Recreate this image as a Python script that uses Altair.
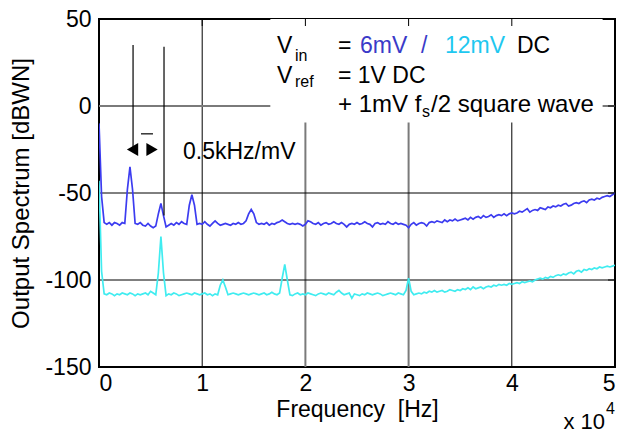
import altair as alt
import pandas as pd

# ---------------- data ----------------
freq_hz = list(range(0, 50001, 250))

spec_6mV = [
    -10, -52, -67, -68, -67, -68.5, -67, -67.5, -68.5, -67, -67.5, -48, -35, -48, -67.5, -68, -67, -68.5, -69, -67.5,
    -69, -70, -69, -62, -56, -63, -69.5, -68.5, -67.5, -68.5, -67, -68, -66.5, -67.5, -68, -57, -51, -57, -68, -67.5,
    -68, -66.5, -68, -69, -67.5, -66, -67.5, -68.5, -68, -67.5, -68, -68.5, -67.5, -68, -67, -68, -67.5, -66, -62, -59.5,
    -62, -67, -68, -67.5, -68, -67, -68.5, -67.5, -68, -67, -66.5, -65.5, -66.5, -67.5, -68, -67.5, -68, -67.5, -68, -69,
    -68, -66, -66.5, -67.5, -68, -67, -68.5, -67.5, -67, -68, -67.5, -66.5, -67.5, -68, -67, -68, -69.5, -68, -67.5, -68,
    -67, -68, -67.5, -66.5, -67.5, -68, -69.5, -67.5, -67, -68, -67.5, -68, -66.5, -67.5, -68, -67, -68, -67.5, -68, -68.5,
    -70, -68, -67, -68.5, -67.5, -67, -67.5, -69, -67, -66.5, -67, -66, -66.5, -67, -65.5, -66.5, -65.5, -66, -65, -66,
    -65.5, -65, -64.5, -65.5, -64, -65, -64, -63.5, -64.5, -63, -64, -63.5, -62.5, -64, -63, -62.5, -63, -62, -63, -62,
    -61.5, -62, -61.5, -60.5, -61, -60, -59, -61, -60, -59.5, -60, -58.5, -59, -59.5, -58, -58.5, -57.5, -58, -57, -57.5,
    -56.5, -56, -57.5, -57, -56, -55.5, -56, -55, -54.5, -55.5, -54, -53.5, -54, -53, -53.5, -52.5, -52, -51.5, -52, -51,
    -50,
]

spec_12mV = [
    -43, -95, -108, -108.5, -107.5, -108, -109, -108, -108.5, -107.5, -108, -108.5, -107.5, -108, -109, -108, -108.5, -108, -107.5, -108.5,
    -106.5, -107.5, -108.5, -96, -75, -96, -109, -108, -108.5, -107.5, -108, -109, -108.5, -108, -107.5, -108, -108.5, -107.5, -108, -108.5,
    -108, -107.5, -108.5, -108, -109, -108, -108.5, -103, -100, -104, -108.5, -108, -107.5, -108, -108.5, -108, -107.5, -108, -108.5, -108,
    -107.5, -108, -108.5, -108, -107.5, -108.5, -108, -107, -108, -108.5, -107.5, -99, -91, -100, -108.5, -109, -108, -107.5, -108.5, -108,
    -108.5, -107.5, -108, -108.5, -109, -108, -107.5, -108, -108.5, -107.5, -108, -108.5, -107, -106, -107.5, -108.5, -108, -107.5, -110.5, -108,
    -108.5, -109, -108, -108.5, -107.5, -108, -108.5, -108, -107.5, -108, -109, -108.5, -108, -107.5, -108, -108.5, -107.5, -108, -108.5, -106,
    -99, -106.5, -108.5, -108, -107.5, -108, -107, -107.5, -106.5, -107, -106, -107, -106.5, -106, -107, -106.5, -105.5, -106, -106.5, -105.5,
    -106, -105, -105.5, -104.5, -105.5, -104, -105, -104.5, -104, -105, -104, -103.5, -104, -103, -103.5, -102.5, -103, -102.5, -103, -102,
    -102.5, -102, -101.5, -102, -101, -101.5, -101, -100.5, -101, -100, -99.5, -99, -99.5, -98.5, -99, -98, -98.5, -97.5, -97, -97.5,
    -96.5, -97, -96, -95.5, -96.5, -95, -94.5, -95.5, -94, -94.5, -93.5, -94, -93, -93.5, -92.5, -93, -92.5, -92, -92.5, -92,
    -91.5,
]

series_names = ["6mV", "12mV"]
series_colors = ["#3c3cf0", "#40ecf0"]

x_ticks = [0, 10000, 20000, 30000, 40000, 50000]
y_ticks = [-150, -100, -50, 0, 50]

# ---------------- tables ----------------
df = pd.concat([
    pd.DataFrame({"f": freq_hz, "dB": spec_6mV, "s": series_names[0]}),
    pd.DataFrame({"f": freq_hz, "dB": spec_12mV, "s": series_names[1]}),
])

FONT = "Liberation Sans"

xs = alt.Scale(domain=[0, 50000], nice=False, zero=False)
ys = alt.Scale(domain=[-150, 50], nice=False, zero=False)

vgrid = pd.DataFrame({"f": [10000, 20000, 30000, 40000],
                      "c": ["#000000", "#7a7a7a", "#7a7a7a", "#000000"],
                      "w": [1, 2, 2, 1]})
hgrid = pd.DataFrame({"dB": [-100, -50, 0],
                      "c": ["#000000", "#000000", "#7a7a7a"],
                      "w": [1, 1, 2]})

vg = alt.Chart(vgrid).mark_rule().encode(
    x=alt.X("f:Q", scale=xs), color=alt.Color("c:N", scale=None),
    strokeWidth=alt.StrokeWidth("w:Q", scale=None))
hg = alt.Chart(hgrid).mark_rule().encode(
    y=alt.Y("dB:Q", scale=ys), color=alt.Color("c:N", scale=None),
    strokeWidth=alt.StrokeWidth("w:Q", scale=None))

box = alt.Chart(pd.DataFrame({"a": [16600], "b": [48800], "t": [50], "u": [-9.5]})).mark_rect(
    color="white").encode(x=alt.X("a:Q", scale=xs), x2="b:Q", y=alt.Y("t:Q", scale=ys), y2="u:Q")

lines = alt.Chart(df).mark_line(strokeWidth=1.7, clip=True).encode(
    x=alt.X("f:Q", scale=xs,
            axis=alt.Axis(values=x_ticks, labelExpr="datum.value / 10000", grid=False, ticks=False,
                          domain=False, labelFontSize=23, labelPadding=5,
                          title="Frequency \u00a0[Hz]", titleFontSize=23,
                          titleFontWeight="normal", titlePadding=3, labelColor="black", titleColor="black")),
    y=alt.Y("dB:Q", scale=ys,
            axis=alt.Axis(values=y_ticks, labelExpr="datum.value + ''", grid=False, ticks=False,
                          domain=False, labelFontSize=23,
                          labelPadding=8, title="Output Spectrum [dBWN]", titleFontSize=24,
                          titleFontWeight="normal", titlePadding=11, labelColor="black", titleColor="black")),
    color=alt.Color("s:N", scale=alt.Scale(domain=series_names, range=series_colors), legend=None),
    order=alt.Order("f:Q"),
)

# annotation: marker lines, arrows, bar, text
ann_v = pd.DataFrame({"f": [3300, 6300], "y1": [35, 34], "y2": [-25, -63]})
ann_lines = alt.Chart(ann_v).mark_rule(color="black", strokeWidth=1.2).encode(
    x=alt.X("f:Q", scale=xs), y=alt.Y("y1:Q", scale=ys), y2="y2:Q")
bar = alt.Chart(pd.DataFrame({"a": [4070], "b": [5230], "y": [-16]})).mark_rule(
    color="black", strokeWidth=1.2).encode(x=alt.X("a:Q", scale=xs), x2="b:Q", y=alt.Y("y:Q", scale=ys))
tri = pd.DataFrame({"f": [3250, 5140], "y": [-25, -25], "sh": ["triangle-left", "triangle-right"]})
arrows = alt.Chart(tri).mark_point(filled=True, color="black", size=170, opacity=1).encode(
    x=alt.X("f:Q", scale=xs), y=alt.Y("y:Q", scale=ys), shape=alt.Shape("sh:N", scale=None))
lbl = alt.Chart(pd.DataFrame({"f": [8140], "y": [-26.4], "t": ["0.5kHz/mV"]})).mark_text(
    align="left", baseline="middle", fontSize=23, font=FONT, color="black").encode(
    x=alt.X("f:Q", scale=xs), y=alt.Y("y:Q", scale=ys), text="t:N")

# legend-like text block (pixel positions inside plot area)
txt = pd.DataFrame({
    "t": ["V", "in", "=", "6mV", "/", "12mV", "DC",
          "V", "ref", "= 1V DC",
          "+ 1mV f", "s", "/2 square wave"],
    "x": [178, 196, 239, 261, 322, 346, 418,
          178, 196, 239,
          239, 323, 332],
    "y": [34, 42, 34, 34, 34, 34, 34,
          64, 68, 64,
          93, 98, 93],
    "fs": [23, 16, 23, 23, 23, 23, 23,
           23, 16, 23,
           24, 16, 24],
    "c": ["black", "black", "black", "#3a3ac8", "#3a3ac8", "#1ec8f0", "black",
          "black", "black", "black",
          "black", "black", "black"],
})
textblock = alt.Chart(txt).mark_text(align="left", baseline="alphabetic", font=FONT).encode(
    x=alt.X("x:Q", scale=None), y=alt.Y("y:Q", scale=None), text="t:N",
    size=alt.Size("fs:Q", scale=None), color=alt.Color("c:N", scale=None))

# MATLAB-style inward ticks on top and right edges
top_ticks = alt.Chart(pd.DataFrame({"f": [10000, 20000, 30000, 40000]})).mark_rule(
    color="black", strokeWidth=1).encode(x=alt.X("f:Q", scale=xs), y=alt.value(0), y2=alt.value(7))
right_ticks = alt.Chart(pd.DataFrame({"dB": [-100, -50, 0]})).mark_rule(
    color="black", strokeWidth=1).encode(y=alt.Y("dB:Q", scale=ys), x=alt.value(509), x2=alt.value(516))

# multiplier text under the x axis
mult_a = alt.Chart(pd.DataFrame({"t": ["x 10"], "x": [506], "y": [410]})).mark_text(
    baseline="alphabetic", align="right", font=FONT, fontSize=22, color="black").encode(
    x=alt.X("x:Q", scale=None), y=alt.Y("y:Q", scale=None), text="t:N")
mult_b = alt.Chart(pd.DataFrame({"t": ["4"], "x": [507], "y": [395]})).mark_text(
    baseline="alphabetic", align="left", font=FONT, fontSize=16, color="black").encode(
    x=alt.X("x:Q", scale=None), y=alt.Y("y:Q", scale=None), text="t:N")

chart = alt.layer(
    vg, hg, box, lines, ann_lines, bar, arrows, lbl, textblock, top_ticks, right_ticks, mult_a, mult_b
).properties(
    width=516, height=348,
    autosize=alt.AutoSizeParams(type="none"),
    padding={"left": 99, "top": 19, "right": 5, "bottom": 66},
    background="white",
).configure_view(
    stroke="black", strokeWidth=2
).configure_axis(
    labelFont=FONT, titleFont=FONT
)

chart.save("out.html", embed_options={"renderer": "svg", "actions": False})
